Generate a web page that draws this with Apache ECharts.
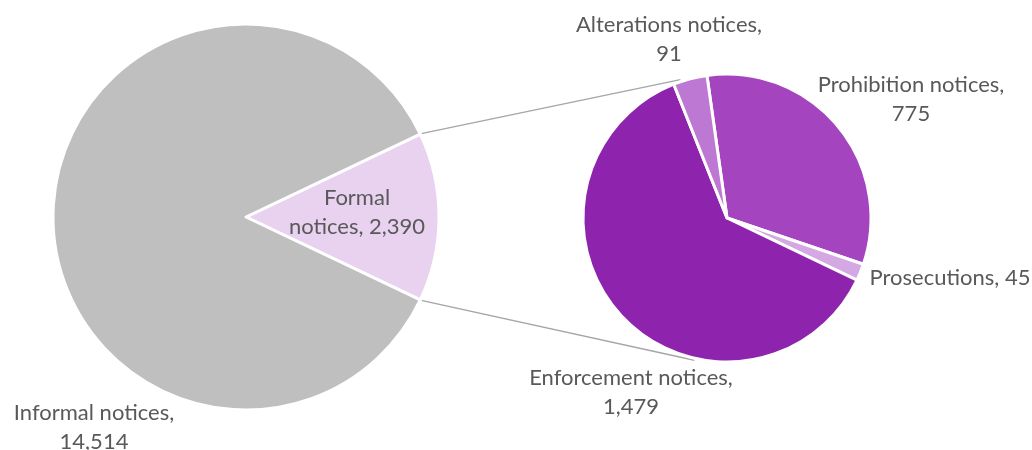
<!DOCTYPE html>
<html>
<head>
<meta charset="utf-8">
<script src="https://cdn.jsdelivr.net/npm/echarts@6/dist/echarts.min.js"></script>
<style>html,body{margin:0;padding:0;background:#fff}#c{width:1032px;height:450px}</style>
</head>
<body>
<div id="c"></div>
<script>
// Data
var mainCategories = ['Formal notices', 'Informal notices'];
var mainValues = [2390, 14514];
var subCategories = ['Prohibition notices', 'Prosecutions', 'Enforcement notices', 'Alterations notices'];
var subValues = [775, 45, 1479, 91];

// Layout / style
var FONT = 'Lato';
var TEXT = '#595959';
var FS = 22, LH = 29;
var mainColors = ['#E9D1F0', '#BFBFBF'];
var subColors = ['#A444BF', '#D4A8E2', '#8E24AE', '#BC78D2'];
var mainCenter = [246, 217], mainR = 193;
var subCenter = [727, 218], subR = 144;

var mainLabelPos = [[357, 212], [94, 427]];
var subLabelPos = [[911, 99], [950, 278], [631, 392], [669, 39]];

function fmt(v) { return v.toLocaleString('en-US'); }
function mainLabel(p) {
  if (p.dataIndex === 0) return 'Formal\nnotices, ' + fmt(p.value);
  return p.name + ',\n' + fmt(p.value);
}
function subLabel(p) {
  if (p.name === 'Prosecutions') return p.name + ', ' + fmt(p.value);
  return p.name + ',\n' + fmt(p.value);
}

var mainTotal = mainValues.reduce(function (a, b) { return a + b; }, 0);
var formalHalf = mainValues[0] / mainTotal * 180;

// connector lines: from edges of formal slice to the second pie
var d2r = Math.PI / 180;
var subUpperAngle = 108.6, subLowerAngle = 257.1;
function pt(c, r, a) { return [c[0] + r * Math.cos(a * d2r), c[1] - r * Math.sin(a * d2r)]; }
var a1 = pt(mainCenter, mainR + 1, formalHalf), b1 = pt(subCenter, subR + 2, subUpperAngle);
var a2 = pt(mainCenter, mainR + 1, -formalHalf), b2 = pt(subCenter, subR + 2, subLowerAngle);

var chart = echarts.init(document.getElementById('c'), null, { renderer: 'canvas' });
chart.setOption({
  backgroundColor: '#fff',
  animation: false,
  graphic: [
    { type: 'line', shape: { x1: a1[0], y1: a1[1], x2: b1[0], y2: b1[1] }, style: { stroke: '#A6A6A6', lineWidth: 1.5 }, z: 0 },
    { type: 'line', shape: { x1: a2[0], y1: a2[1], x2: b2[0], y2: b2[1] }, style: { stroke: '#A6A6A6', lineWidth: 1.5 }, z: 0 }
  ],
  series: [
    {
      type: 'pie',
      center: mainCenter,
      radius: mainR,
      startAngle: formalHalf,
      clockwise: true,
      avoidLabelOverlap: false,
      itemStyle: { borderColor: '#fff', borderWidth: 3 },
      label: { show: true, formatter: mainLabel, color: TEXT, fontFamily: FONT, fontSize: FS, lineHeight: LH, align: 'center' },
      labelLine: { show: false },
      labelLayout: function (p) {
        var q = mainLabelPos[p.dataIndex];
        return { x: q[0], y: q[1], align: 'center', verticalAlign: 'middle' };
      },
      emphasis: { disabled: true },
      data: mainCategories.map(function (n, i) { return { name: n, value: mainValues[i], itemStyle: { color: mainColors[i] } }; })
    },
    {
      type: 'pie',
      center: subCenter,
      radius: subR,
      startAngle: 98,
      clockwise: true,
      avoidLabelOverlap: false,
      itemStyle: { borderColor: '#fff', borderWidth: 3 },
      label: { show: true, formatter: subLabel, color: TEXT, fontFamily: FONT, fontSize: FS, lineHeight: LH, align: 'center' },
      labelLine: { show: false },
      labelLayout: function (p) {
        var q = subLabelPos[p.dataIndex];
        return { x: q[0], y: q[1], align: 'center', verticalAlign: 'middle' };
      },
      emphasis: { disabled: true },
      data: subCategories.map(function (n, i) { return { name: n, value: subValues[i], itemStyle: { color: subColors[i] } }; })
    }
  ]
});
</script>
</body>
</html>
